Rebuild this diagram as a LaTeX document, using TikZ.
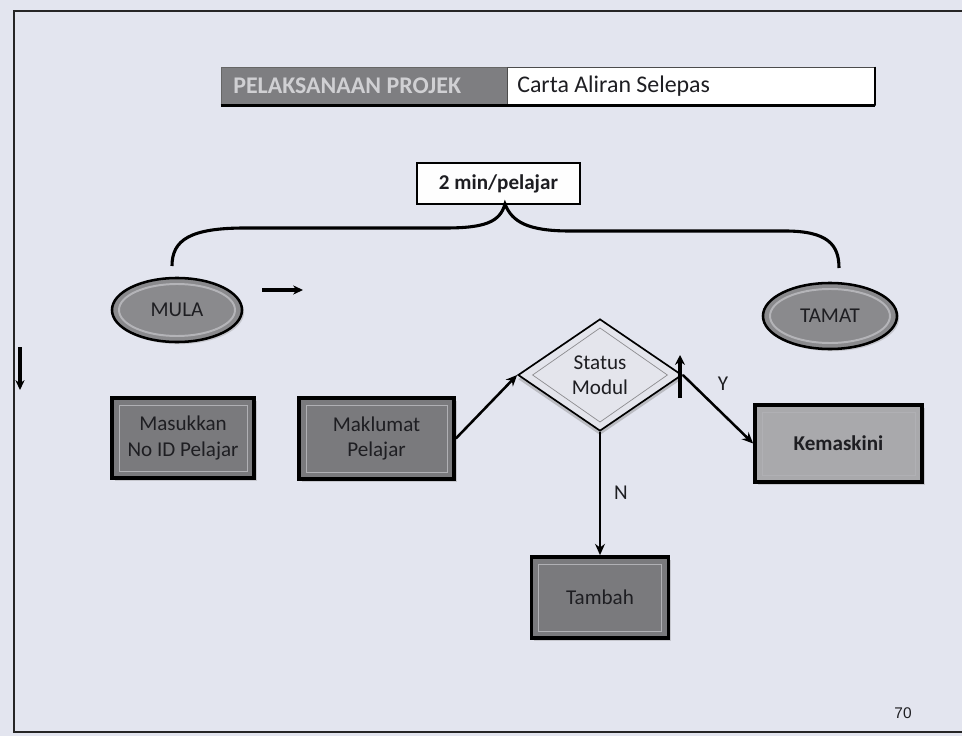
\documentclass[tikz,border=0pt]{standalone}
\usepackage{fontspec}
\setmainfont{Carlito}
\newfontfamily\arialfont{Liberation Sans}
\usetikzlibrary{shapes.geometric,arrows.meta,shadows,calc}
\definecolor{bgc}{HTML}{E3E5EF}
\definecolor{boxc}{HTML}{7A7A7D}
\definecolor{kemc}{HTML}{A9A9AC}
\definecolor{ellc}{HTML}{8A8A8D}
\definecolor{ringc}{HTML}{B4B4B8}
\definecolor{hdg}{HTML}{7E7E81}
\definecolor{hdtxt}{HTML}{D0D0D3}
\definecolor{diac}{HTML}{E4E5EC}
\definecolor{txtc}{HTML}{1E1E22}
\definecolor{innerc}{HTML}{B0B0B4}
\begin{document}
\begin{tikzpicture}[x=0.025cm,y=-0.025cm,
  bodyfont/.style={font=\fontsize{15}{18}\selectfont},
  greybox/.style={draw=black, line width=2.6pt, fill=boxc, text=txtc, bodyfont, align=center, inner sep=0pt,
    drop shadow={shadow xshift=2pt, shadow yshift=-2pt, opacity=0.3},
    path picture={\draw[innerc, line width=0.6pt]
      ($(path picture bounding box.north west)+(5pt,-5pt)$) rectangle
      ($(path picture bounding box.south east)+(-5pt,5pt)$);}},
  oval/.style={ellipse, draw=black, line width=1.8pt, fill=ellc, text=txtc, bodyfont, inner sep=0pt,
    drop shadow={shadow xshift=1.5pt, shadow yshift=-1.5pt, opacity=0.3}},
  ring/.style={draw=ringc, line width=1.4pt},
  arr/.style={line width=1.8pt, -{Stealth[length=8pt,width=7pt]}},
  lbl/.style={text=txtc, bodyfont}
]
\useasboundingbox (0,0) rectangle (962,736);
\fill[bgc] (0,0) rectangle (962,736);
% frame
\draw[line width=1.5pt, black!85] (962,11) -- (14,11) -- (14,732) -- (962,732);

% header
\node[fill=hdg, draw=black!60, line width=0.6pt, minimum width=7.15cm, minimum height=0.95cm, inner sep=0pt] (hg) at (364,86) {};
\node[fill=white, draw=black!70, line width=0.6pt, minimum width=9.2cm, minimum height=0.95cm, inner sep=0pt] (hw) at (691,86) {};
\draw[line width=2.4pt, black] (hg.south west) -- (hw.south east);
\draw[line width=1.4pt, black] (hw.north east) -- (hw.south east);
\node[anchor=west, text=hdtxt, font=\bfseries\fontsize{17}{20}\selectfont, inner sep=0pt] (hgt) at (233,86) {PELAKSANAAN PROJEK};
\node[anchor=west, text=txtc, font=\fontsize{17}{20}\selectfont, inner sep=0pt] (hwt) at (517,86) {Carta Aliran Selepas};

% time box and brace
\node[draw=black, line width=1pt, fill=white!96!bgc, minimum width=4.075cm, minimum height=1.025cm, inner sep=0pt,
  text=txtc, font=\bfseries\fontsize{15}{18}\selectfont] (tm) at (498.5,183.5) {2 min/pelajar};
\draw[line width=2.2pt, black] (172,266) .. controls (172,240) and (190,228) .. (245,228)
  -- (445,228) .. controls (485,228) and (500,222) .. (505,204)
  .. controls (512,222) and (528,231) .. (570,231)
  -- (785,231) .. controls (828,231) and (839,245) .. (839,268);

% terminals
\node[oval, minimum width=3.25cm, minimum height=1.6cm] (mula) at (177,310) {};
\draw[ring] (mula.center) ellipse [x radius=58, y radius=26];
\node[text=txtc, bodyfont] (mulat) at (mula.center) {MULA};
\node[oval, minimum width=3.35cm, minimum height=1.65cm] (tamat) at (830,316) {};
\draw[ring] (tamat.center) ellipse [x radius=60, y radius=27];
\node[text=txtc, bodyfont] (tamatt) at (tamat.center) {TAMAT};

% process boxes
\node[greybox, minimum width=3.55cm, minimum height=2.0cm] (mas) at (183,438) {Masukkan\\No ID Pelajar};
\node[greybox, minimum width=3.875cm, minimum height=2.025cm] (mak) at (376.5,438.5) {Maklumat\\Pelajar};
\node[greybox, fill=kemc, minimum width=4.175cm, minimum height=1.925cm, font=\bfseries\fontsize{15}{18}\selectfont] (kem) at (838.5,443.5) {Kemaskini};
\node[greybox, minimum width=3.425cm, minimum height=2.025cm] (tam) at (600,597.5) {Tambah};

% decision
\node[diamond, minimum width=4.1cm, minimum height=2.8cm, inner sep=0pt, fill=diac, draw=black, line width=1.2pt,
  align=center, text=txtc, bodyfont, drop shadow={shadow xshift=0pt, shadow yshift=-3pt, opacity=0.4}] (dec) at (600,375) {Status\\Modul};
\draw[innerc!80!black, line width=0.5pt] ($(dec.north)+(0,-7pt)$) -- ($(dec.east)+(-11pt,0)$) -- ($(dec.south)+(0,7pt)$) -- ($(dec.west)+(11pt,0)$) -- cycle;

% connectors
\draw[arr] (mak.east) -- (dec.west);
\draw[arr] (dec.east) -- (kem.west);
\draw[arr] (dec.south) -- (tam.north);
\node[lbl] (ylbl) at (723,384) {Y};
\node[lbl] (nlbl) at (621,493) {N};

% stray arrows
\coordinate (ra1) at (262,290);
\coordinate (ra2) at (303,290);
\draw[line width=2.4pt, -{Stealth[length=7pt,width=6.5pt]}] (ra1) -- (ra2);
\coordinate (da1) at (20,347);
\coordinate (da2) at (20,390);
\draw[line width=2.2pt, -{Stealth[length=7pt,width=6.5pt]}] (da1) -- (da2);
\coordinate (ua1) at (680,398);
\coordinate (ua2) at (680,355);
\draw[line width=3pt, -{Stealth[length=7pt,width=7pt]}] (ua1) -- (ua2);

% page number
\node[font=\arialfont\fontsize{11}{13}\selectfont, text=txtc] (pg) at (903,713) {70};
\end{tikzpicture}
\end{document}
